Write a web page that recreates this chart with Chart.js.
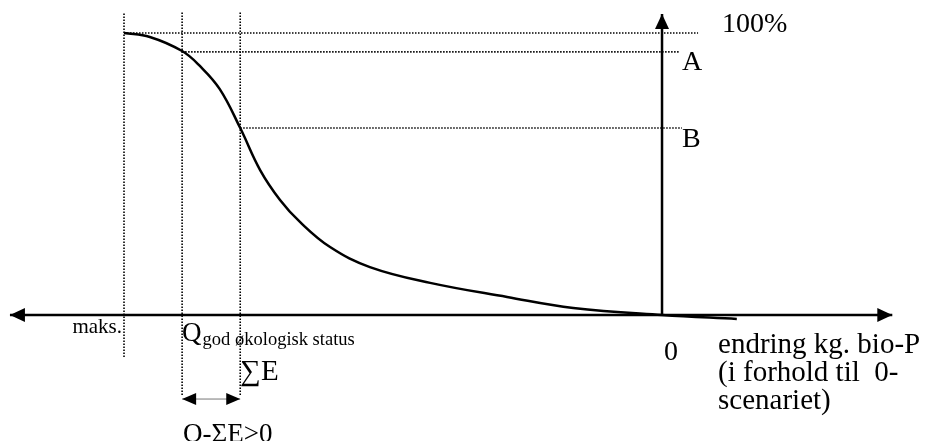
<!DOCTYPE html>
<html>
<head>
<meta charset="utf-8">
<script src="https://cdn.jsdelivr.net/npm/chart.js@4/dist/chart.umd.min.js"></script>
<style>
  html, body { margin: 0; padding: 0; background: #fff; }
  canvas { display: block; }
</style>
</head>
<body>
<canvas id="chart" width="925" height="441"></canvas>
<script>
// curve: share of reference state (%) vs. change in kg bio-P (0 = 0-scenario)
var curveX = [-100, -95.2, -89.2, -85.9, -82.2, -78.4, -74.7, -71.0, -67.3, -61.7,
              -54.3, -43.1, -28.8, -16.5, 0, 13.9];
var curveY = [100, 98.6, 93.6, 88.3, 80.1, 66.3, 51.4, 40.8, 33.0, 24.1,
              17.0, 11.4, 6.4, 2.5, 0, -1.4];

// vertical guides: maks., Q god okologisk status, sum E
var guideX = [-100, -89.2, -78.4];
var guideBottom = [-14.9, -28.4, -28.4];
var guideTop = 107.4;

// horizontal guides: 100%, A, B
var levelY = [100, 93.3, 66.3];
var levelEnd = [6.7, 3.2, 3.7];
var levelLabels = ['100%', 'A', 'B'];

// axes ends and the Q - sum E arrow
var xAxisEnds = [-121.2, 42.8];
var yAxisTop = 106.7;
var gapArrowY = -29.8;

var datasets = [];

datasets.push({
    data: curveX.map(function (x, i) { return { x: x, y: curveY[i] }; }),
    borderColor: '#000',
    borderWidth: 2.5,
    pointRadius: 0,
    tension: 0.4
});

var dotted = { borderColor: '#000', borderWidth: 1.6, borderDash: [1.5, 1.5], pointRadius: 0 };

for (var i = 0; i < guideX.length; i++) {
    datasets.push(Object.assign({
        data: [{ x: guideX[i], y: guideBottom[i] }, { x: guideX[i], y: guideTop }]
    }, dotted));
}
for (var j = 0; j < levelY.length; j++) {
    datasets.push(Object.assign({
        data: [{ x: guideX[j], y: levelY[j] }, { x: levelEnd[j], y: levelY[j] }]
    }, dotted));
}

// x axis, y axis
datasets.push({
    data: [{ x: xAxisEnds[0], y: 0 }, { x: xAxisEnds[1], y: 0 }],
    borderColor: '#000', borderWidth: 2.5, pointRadius: 0
});
datasets.push({
    data: [{ x: 0, y: 0 }, { x: 0, y: yAxisTop }],
    borderColor: '#000', borderWidth: 2.5, pointRadius: 0
});
// Q - sum E span
datasets.push({
    data: [{ x: guideX[1], y: gapArrowY }, { x: guideX[2], y: gapArrowY }],
    borderColor: '#777', borderWidth: 1, pointRadius: 0
});

function arrowHead(ctx, tx, ty, dx, dy, len, half) {
    // tip at (tx,ty), pointing in direction (dx,dy)
    var bx = tx - dx * len, by = ty - dy * len;
    ctx.beginPath();
    ctx.moveTo(tx, ty);
    ctx.lineTo(bx - dy * half, by + dx * half);
    ctx.lineTo(bx + dy * half, by - dx * half);
    ctx.closePath();
    ctx.fill();
}

var annotate = {
    id: 'annotate',
    afterDatasetsDraw: function (chart) {
        var ctx = chart.ctx;
        var sx = chart.scales.x, sy = chart.scales.y;
        var px = function (v) { return sx.getPixelForValue(v); };
        var py = function (v) { return sy.getPixelForValue(v); };
        ctx.save();
        ctx.fillStyle = '#000';

        arrowHead(ctx, px(xAxisEnds[0]), py(0), -1, 0, 15, 7);
        arrowHead(ctx, px(xAxisEnds[1]), py(0), 1, 0, 15, 7);
        arrowHead(ctx, px(0), py(yAxisTop), 0, -1, 15, 7);
        arrowHead(ctx, px(guideX[1]), py(gapArrowY), -1, 0, 14, 6);
        arrowHead(ctx, px(guideX[2]), py(gapArrowY), 1, 0, 14, 6);

        var serif = '"Liberation Serif", "Times New Roman", serif';
        ctx.textBaseline = 'alphabetic';
        ctx.textAlign = 'left';

        ctx.font = '28px ' + serif;
        ctx.fillText(levelLabels[0], px(0) + 60, py(levelY[0]) - 1);
        ctx.fillText(levelLabels[1], px(0) + 20, py(levelY[1]) + 18);
        ctx.fillText(levelLabels[2], px(0) + 20, py(levelY[2]) + 19);
        ctx.fillText('0', px(0) + 2, py(0) + 45);

        ctx.font = '29px ' + serif;
        ctx.fillText('endring kg. bio-P', px(0) + 56, py(0) + 38);
        ctx.fillText('(i forhold til  0-', px(0) + 56, py(0) + 66);
        ctx.fillText('scenariet)', px(0) + 56, py(0) + 94);

        ctx.font = '21px ' + serif;
        ctx.textAlign = 'right';
        ctx.fillText('maks.', px(guideX[0]) - 2, py(0) + 18);
        ctx.textAlign = 'left';

        ctx.font = '27px ' + serif;
        var qx = px(guideX[1]);
        ctx.fillText('Q', qx, py(0) + 26);
        var qw = ctx.measureText('Q').width;
        ctx.font = '18.5px ' + serif;
        ctx.fillText('god økologisk status', qx + qw + 1, py(0) + 30);

        ctx.font = '29px ' + serif;
        ctx.fillText('\u2211E', px(guideX[2]), py(0) + 65);

        ctx.font = '27px ' + serif;
        ctx.fillText('Q-\u03a3E>0', qx + 1, py(0) + 127);

        ctx.restore();
    }
};

new Chart(document.getElementById('chart').getContext('2d'), {
    type: 'line',
    data: { datasets: datasets },
    options: {
        responsive: false,
        animation: false,
        layout: { padding: 0 },
        plugins: {
            legend: { display: false },
            tooltip: { enabled: false }
        },
        scales: {
            x: { type: 'linear', display: false, min: -123.05, max: 48.88 },
            y: { type: 'linear', display: false, min: -44.68, max: 111.7 }
        }
    },
    plugins: [annotate]
});
</script>
</body>
</html>
